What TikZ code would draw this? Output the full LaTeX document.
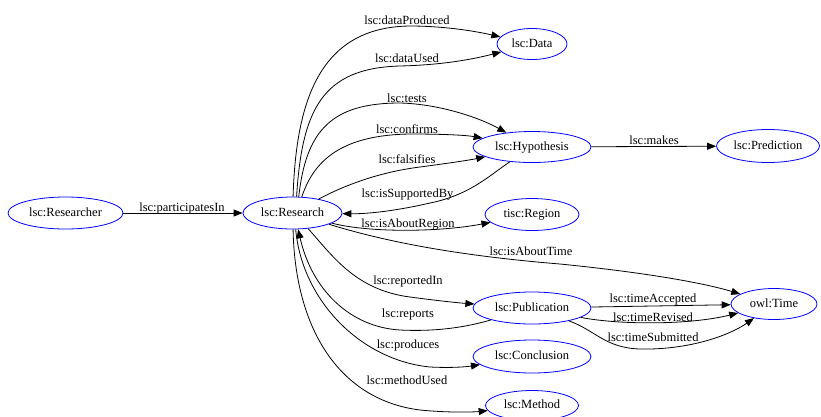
\documentclass[tikz,border=0pt]{standalone}
\usepackage{fontspec}
\setmainfont{Liberation Serif}
\usetikzlibrary{shapes.geometric,arrows.meta}
\begin{document}
\begin{tikzpicture}[x=1pt,y=-1pt,
  ent/.style={ellipse, draw=blue, line width=0.8pt, inner sep=0pt,
    font=\fontsize{12.5}{15}\selectfont, text height=8.5pt, text depth=2.5pt},
  edge/.style={draw=black, line width=0.8pt, -{Triangle[length=9pt,width=7pt]}},
  lbl/.style={font=\fontsize{12.5}{15}\selectfont, inner sep=0pt, anchor=base}]
\useasboundingbox (0,0) rectangle (821,416);

% entities
\node[ent, minimum width=115pt, minimum height=32pt] (researcher) at (65.5,213) {lsc:Researcher};
\node[ent, minimum width=99pt, minimum height=32pt] (research) at (292.5,213) {lsc:Research};
\node[ent, minimum width=70pt, minimum height=31pt] (data) at (532,44) {lsc:Data};
\node[ent, minimum width=118pt, minimum height=31pt] (hyp) at (532,147) {lsc:Hypothesis};
\node[ent, minimum width=103pt, minimum height=33pt] (pred) at (768,146) {lsc:Prediction};
\node[ent, minimum width=94pt, minimum height=32pt] (region) at (532,214.5) {tisc:Region};
\node[ent, minimum width=86pt, minimum height=31pt] (time) at (774,304) {owl:Time};
\node[ent, minimum width=118pt, minimum height=32pt] (pub) at (532,308) {lsc:Publication};
\node[ent, minimum width=118pt, minimum height=33pt] (conc) at (532,356.5) {lsc:Conclusion};
\node[ent, minimum width=93pt, minimum height=30pt] (method) at (532,405.5) {lsc:Method};

% straight edges
\draw[edge] (researcher) -- (research);
\draw[edge] (hyp) -- (pred);
\draw[edge] (pub) -- (time);

% curved edges
\draw[edge] (research.88) .. controls (296,100) and (320,27) .. (410,26) .. controls (440,26) and (470,30) .. (data);
\draw[edge] (research.76) .. controls (302,110) and (322,68) .. (400,66) .. controls (440,65) and (470,60) .. (data);
\draw[edge] (research.69) .. controls (306,130) and (332,103) .. (400,103) .. controls (440,104) and (480,118) .. (hyp);
\draw[edge] (research.60) .. controls (314,160) and (342,135) .. (410,134) .. controls (440,134) and (465,135) .. (hyp);
\draw[edge] (research.28) .. controls (345,185) and (380,172) .. (420,167) .. controls (450,163) and (470,160) .. (hyp);
\draw[edge] (hyp) .. controls (490,175) and (470,195) .. (430,203) .. controls (400,210) and (370,214) .. (research);
\draw[edge] (research) .. controls (370,233) and (440,232) .. (region);
\draw[edge] (research) .. controls (380,240) and (450,255) .. (560,264) .. controls (640,272) and (700,282) .. (time);
\draw[edge] (research.-45) .. controls (332,255) and (355,290) .. (410,297) .. controls (440,301) and (460,303) .. (pub);
\draw[edge] (pub) .. controls (470,326) and (440,332) .. (400,330) .. controls (350,327) and (312,290) .. (research.-71);
\draw[edge] (research.-79) .. controls (302,300) and (360,360) .. (430,367) .. controls (450,368) and (465,367) .. (conc);
\draw[edge] (research.-88) .. controls (295,330) and (340,400) .. (420,410) .. controls (450,413) and (475,412) .. (method);
\draw[edge] (pub) .. controls (620,325) and (690,325) .. (time);
\draw[edge] (pub) .. controls (595,330) and (605,348) .. (640,349) .. controls (690,350) and (730,335) .. (time);

% labels
\node[lbl] (lpart) at (182,211) {lsc:participatesIn};
\node[lbl] (ldp) at (407,24) {lsc:dataProduced};
\node[lbl] (ldu) at (407,62) {lsc:dataUsed};
\node[lbl] (lte) at (407,102) {lsc:tests};
\node[lbl] (lco) at (407,133) {lsc:confirms};
\node[lbl] (lfa) at (407,163) {lsc:falsifies};
\node[lbl] (lsu) at (407.5,197) {lsc:isSupportedBy};
\node[lbl] (lre) at (408,227) {lsc:isAboutRegion};
\node[lbl] (lti) at (531,255) {lsc:isAboutTime};
\node[lbl] (lri) at (408,284) {lsc:reportedIn};
\node[lbl] (lrp) at (408,317) {lsc:reports};
\node[lbl] (lpr) at (408,348) {lsc:produces};
\node[lbl] (lmu) at (407,384) {lsc:methodUsed};
\node[lbl] (lma) at (654,144) {lsc:makes};
\node[lbl] (lta) at (653,302) {lsc:timeAccepted};
\node[lbl] (ltr) at (653,321) {lsc:timeRevised};
\node[lbl] (lts) at (653,341) {lsc:timeSubmitted};
\end{tikzpicture}
\end{document}
